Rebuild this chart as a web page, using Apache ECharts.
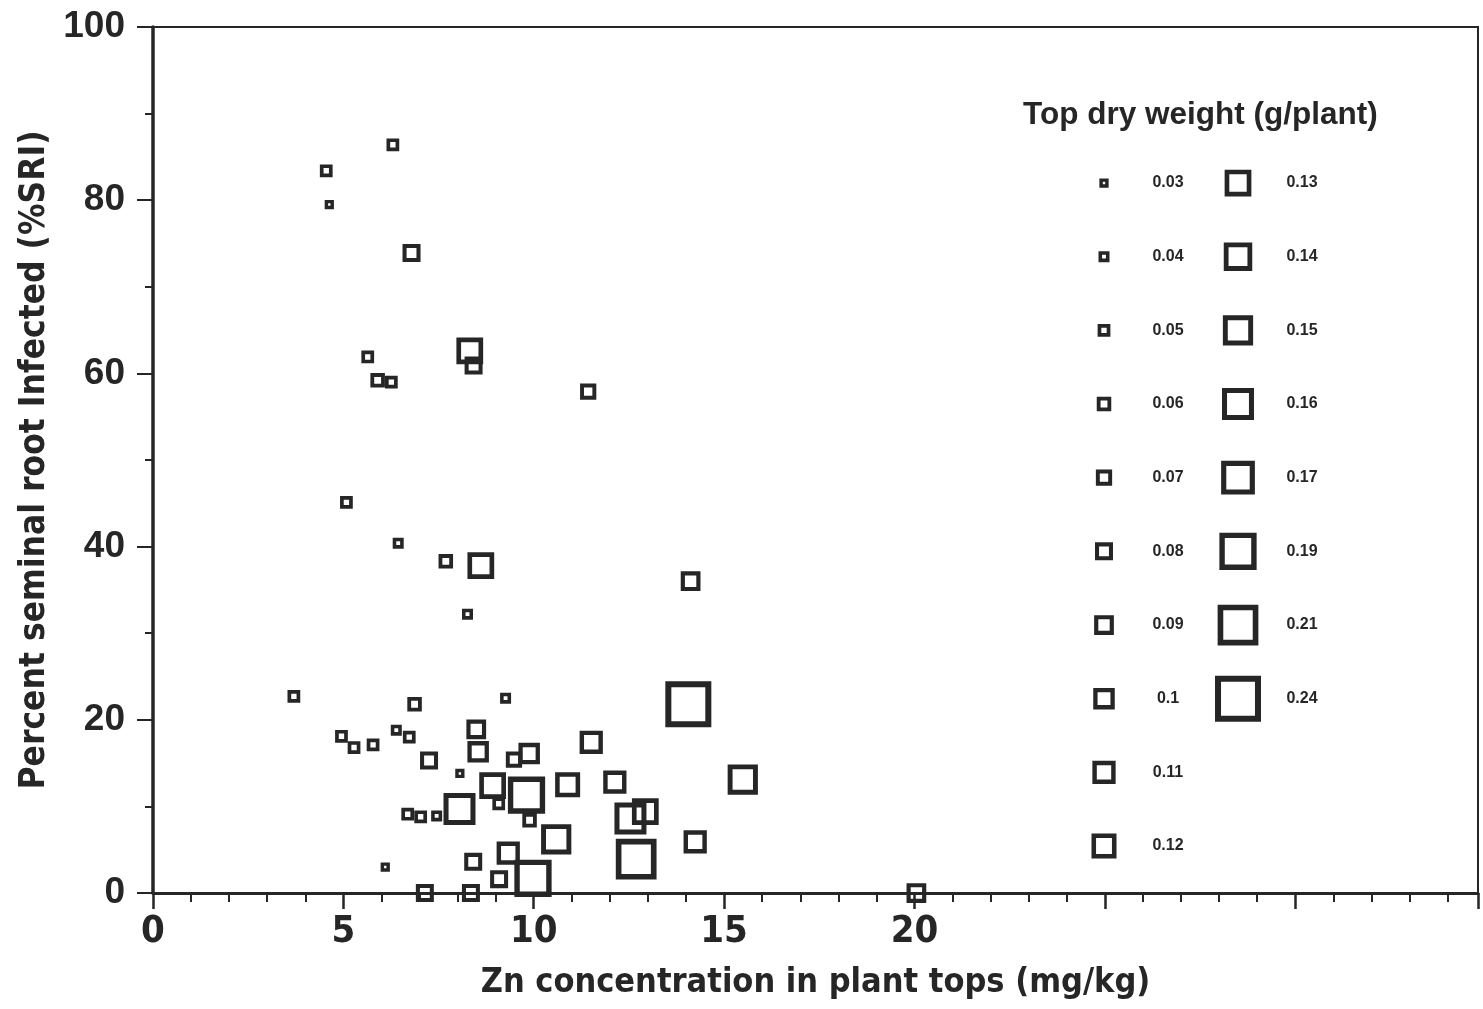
<!DOCTYPE html>
<html>
<head>
<meta charset="utf-8">
<script src="https://cdn.jsdelivr.net/npm/echarts@6/dist/echarts.min.js"></script>
<style>
html,body{margin:0;padding:0;background:#fff;}
#chart{width:1483px;height:1009px;}
</style>
</head>
<body>
<div id="chart"></div>
<script>
// ---- data ----
const znConc = [6.3, 4.55, 4.63, 6.79, 8.32, 8.42, 5.64, 5.9, 6.26, 11.43,
  5.08, 6.44, 7.69, 8.61, 8.26, 3.7, 6.87, 9.26, 4.95, 5.28,
  5.78, 6.39, 6.73, 8.49, 8.54, 7.25, 8.06, 9.48, 9.88, 11.51,
  14.06, 15.49, 8.92, 9.08, 9.81, 9.89, 10.89, 12.13, 8.05, 6.69,
  7.03, 7.45, 12.54, 12.93, 10.59, 14.24, 12.69, 9.33, 8.41, 6.1,
  9.09, 9.98, 7.14, 8.35, 14.12, 20.05];
const sriPct = [86.4, 83.4, 79.5, 73.9, 62.6, 60.9, 61.9, 59.2, 59.0, 57.9,
  45.1, 40.4, 38.3, 37.8, 32.2, 22.7, 21.8, 22.5, 18.1, 16.8,
  17.1, 18.8, 18.0, 18.9, 16.3, 15.3, 13.8, 15.4, 16.1, 17.4,
  21.8, 13.1, 12.4, 10.3, 11.3, 8.4, 12.5, 12.8, 9.7, 9.1,
  8.8, 8.9, 8.6, 9.4, 6.2, 5.9, 3.9, 4.6, 3.6, 3.0,
  1.6, 1.7, 0, 0, 36.0, 0];
const dryWeight = [0.05, 0.05, 0.03, 0.08, 0.13, 0.08, 0.05, 0.06, 0.05, 0.07,
  0.05, 0.04, 0.06, 0.13, 0.04, 0.05, 0.06, 0.04, 0.05, 0.05,
  0.05, 0.04, 0.05, 0.09, 0.1, 0.08, 0.03, 0.07, 0.1, 0.11,
  0.24, 0.15, 0.13, 0.05, 0.19, 0.06, 0.12, 0.11, 0.16, 0.05,
  0.05, 0.04, 0.16, 0.13, 0.15, 0.11, 0.21, 0.11, 0.08, 0.03,
  0.08, 0.19, 0.08, 0.08, 0.09, 0.09];
const legendCol1 = [0.03, 0.04, 0.05, 0.06, 0.07, 0.08, 0.09, 0.1, 0.11, 0.12];
const legendCol2 = [0.13, 0.14, 0.15, 0.16, 0.17, 0.19, 0.21, 0.24];
const xTickLabels = [0, 5, 10, 15, 20];
const yTickLabels = [0, 20, 40, 60, 80, 100];

// ---- styling helpers ----
const INK = '#262626';
const NARROW = '"Liberation Sans Narrow", "DejaVu Sans Condensed", "Arial Narrow", sans-serif';
const WIDE = '"Liberation Sans", Arial, Helvetica, sans-serif';
function outerSize(w) { return 175 * w + 4; }
function markItem(value, w) {
  const o = outerSize(w);
  const bw = 2.8 + 0.07 * o;
  return {
    value: value,
    symbolSize: o - bw,
    itemStyle: { borderWidth: bw }
  };
}

const mainData = znConc.map((x, i) => markItem([x, sriPct[i], dryWeight[i]], dryWeight[i]));
const legendData = [];
legendCol1.forEach((w, i) => legendData.push(markItem([0, i, w], w)));
legendCol2.forEach((w, i) => legendData.push(markItem([1, i, w], w)));

const chart = echarts.init(document.getElementById('chart'), null, { renderer: 'canvas' });
chart.setOption({
  backgroundColor: '#ffffff',
  animation: false,
  title: {
    text: 'Top dry weight (g/plant)',
    left: 1018, top: 94,
    textStyle: { fontFamily: WIDE, fontWeight: 'bold', fontSize: 31.5, color: INK }
  },
  grid: [
    { left: 153, top: 27, width: 1325, height: 866, show: true, borderColor: INK, borderWidth: 2, backgroundColor: 'transparent' },
    { left: 1104, top: 183, width: 134, height: 663, show: false }
  ],
  xAxis: [
    {
      gridIndex: 0, type: 'value', min: 0, max: 34.8, interval: 5,
      name: 'Zn concentration in plant tops (mg/kg)',
      nameLocation: 'middle', nameGap: 73,
      nameTextStyle: { fontFamily: NARROW, fontWeight: 'bold', fontSize: 34, color: INK },
      axisLine: { show: true, onZero: false, lineStyle: { color: INK, width: 3 } },
      axisTick: { show: true, inside: false, length: 16, lineStyle: { color: INK, width: 2.5 } },
      minorTick: { show: true, splitNumber: 5, length: 9, lineStyle: { color: INK, width: 2 } },
      splitLine: { show: false },
      axisLabel: {
        margin: 20, fontFamily: NARROW, fontWeight: 'bold', fontSize: 38, color: INK,
        showMaxLabel: false,
        formatter: v => xTickLabels.indexOf(v) >= 0 ? String(v) : ''
      }
    },
    { gridIndex: 1, type: 'value', min: 0, max: 1, show: false }
  ],
  yAxis: [
    {
      gridIndex: 0, type: 'value', min: 0, max: 100, interval: 20,
      name: 'Percent seminal root Infected (%SRI)',
      nameLocation: 'middle', nameGap: 98,
      nameTextStyle: { fontFamily: NARROW, fontWeight: 'bold', fontSize: 35, color: INK },
      axisLine: { show: true, onZero: false, lineStyle: { color: INK, width: 3.5 } },
      axisTick: { show: true, inside: false, length: 16, lineStyle: { color: INK, width: 2 } },
      minorTick: { show: true, splitNumber: 2, length: 8, lineStyle: { color: INK, width: 2 } },
      splitLine: { show: false },
      axisLabel: {
        margin: 28, fontFamily: WIDE, fontWeight: 'bold', fontSize: 37, color: INK,
        formatter: v => yTickLabels.indexOf(v) >= 0 ? String(v) : ''
      }
    },
    { gridIndex: 1, type: 'value', min: 0, max: 9, inverse: true, show: false }
  ],
  series: [
    {
      type: 'scatter', xAxisIndex: 0, yAxisIndex: 0,
      symbol: 'rect',
      itemStyle: { color: 'rgba(0,0,0,0)', borderColor: INK, opacity: 1 },
      data: mainData,
      silent: true
    },
    {
      type: 'scatter', xAxisIndex: 1, yAxisIndex: 1,
      symbol: 'rect',
      itemStyle: { color: 'rgba(0,0,0,0)', borderColor: INK, opacity: 1 },
      label: {
        show: true, position: 'inside', offset: [64, 0],
        fontFamily: WIDE, fontWeight: 'bold', fontSize: 16, color: INK,
        formatter: p => String(p.value[2])
      },
      data: legendData,
      silent: true
    }
  ]
});
</script>
</body>
</html>
